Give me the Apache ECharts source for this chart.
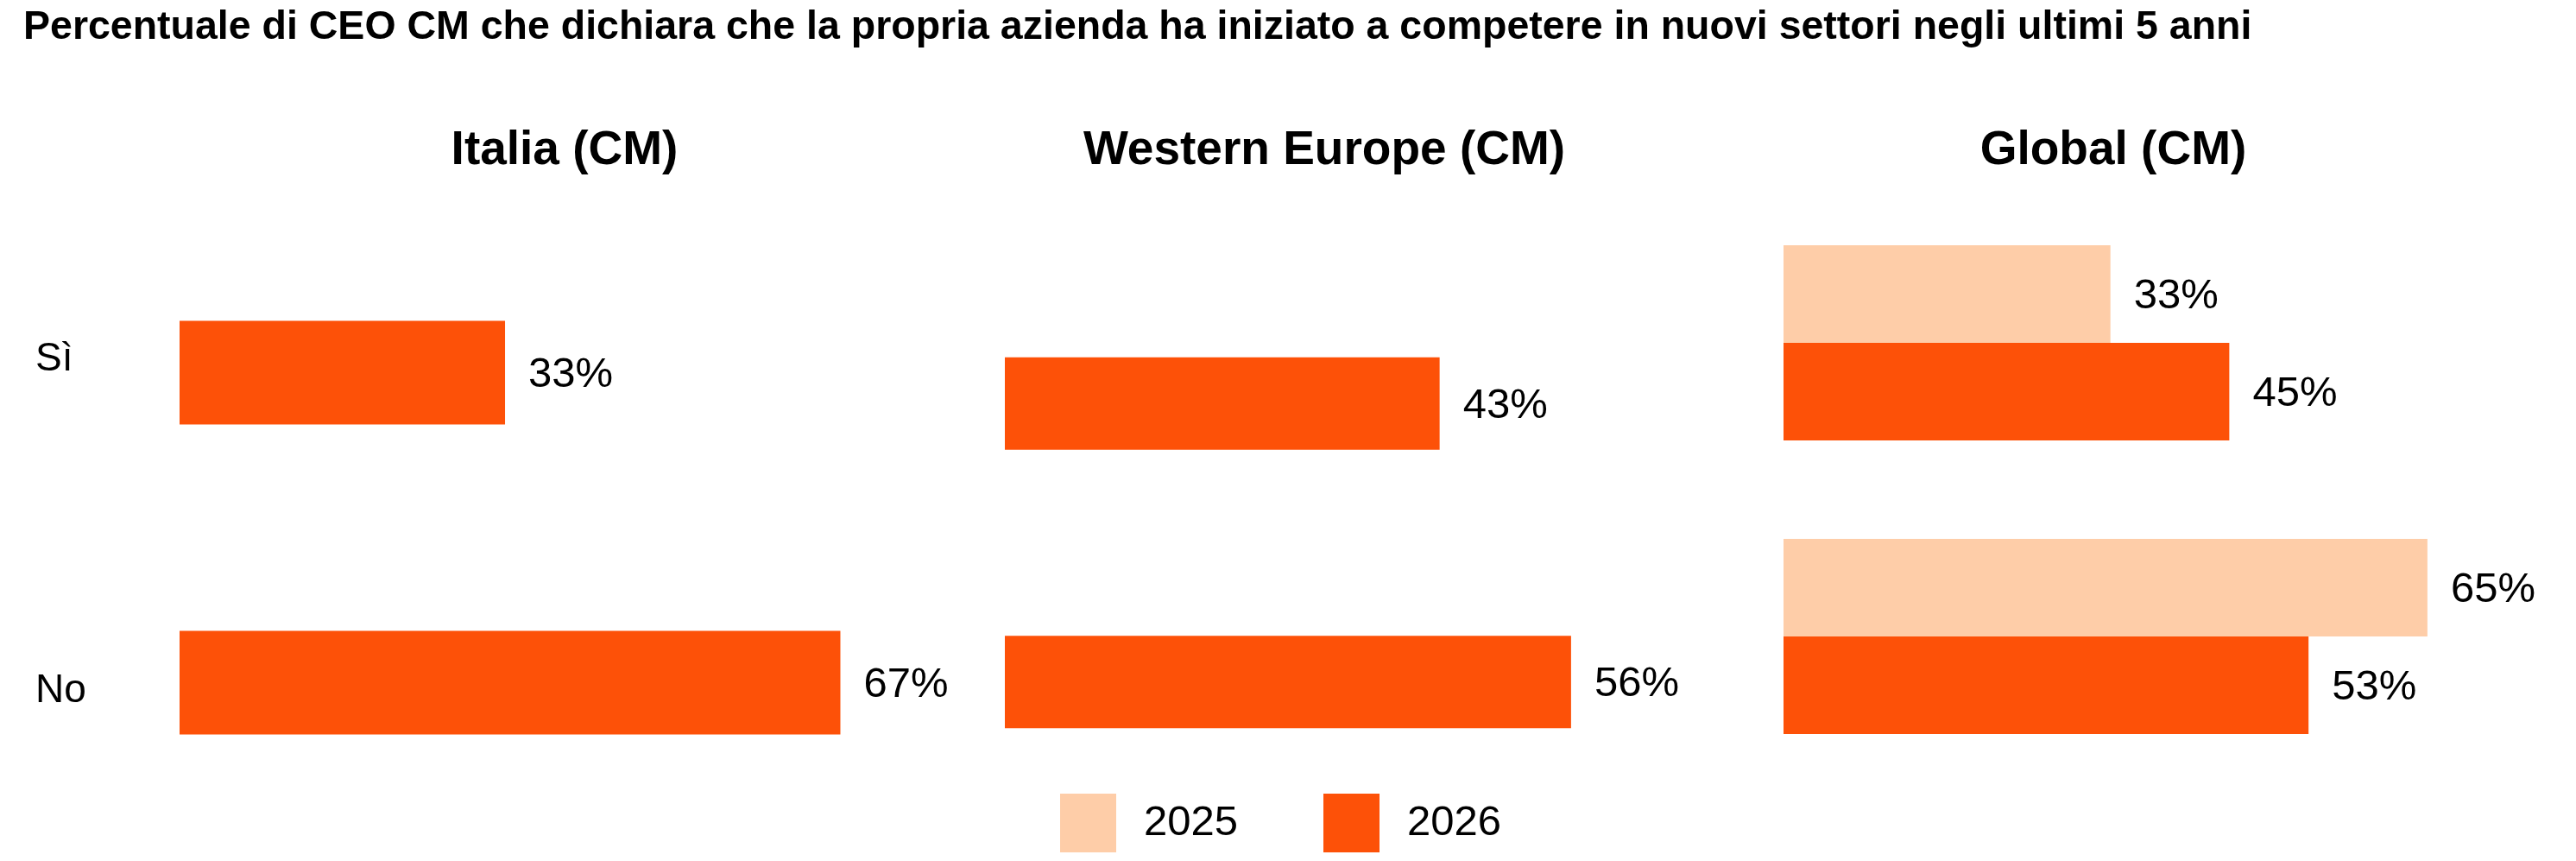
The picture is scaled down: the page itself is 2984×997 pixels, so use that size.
<!DOCTYPE html>
<html>
<head>
<meta charset="utf-8">
<script src="https://cdn.jsdelivr.net/npm/echarts@6/dist/echarts.min.js"></script>
<style>
html,body{margin:0;padding:0;background:#fff;}
#chart{width:2984px;height:997px;}
</style>
</head>
<body>
<div id="chart"></div>
<script>
const mainTitle = 'Percentuale di CEO CM che dichiara che la propria azienda ha iniziato a competere in nuovi settori negli ultimi 5 anni';
const categories = ['Sì', 'No'];
const panelTitles = ['Italia (CM)', 'Western Europe (CM)', 'Global (CM)'];
const years = ['2025', '2026'];
const italia2026 = [33, 67];
const westernEurope2026 = [43, 56];
const global2025 = [33, 65];
const global2026 = [45, 53];

const COLOR_2025 = '#FECDA8';
const COLOR_2026 = '#FD5108';
const FONT = '"Liberation Sans", Arial, Helvetica, sans-serif';

const chart = echarts.init(document.getElementById('chart'));

const grids = [
  {left: 208, top: 252, width: 914, height: 718},
  {left: 1164, top: 306, width: 937, height: 645},
  {left: 2066, top: 227, width: 918, height: 680}
];

const xAxes = grids.map((g, i) => ({
  type: 'value', gridIndex: i, min: 0, max: 80,
  show: false
}));

const yAxes = grids.map((g, i) => ({
  type: 'category', gridIndex: i, data: categories, inverse: true,
  axisLine: {show: false}, axisTick: {show: false}, splitLine: {show: false},
  axisLabel: i === 0 ? {
    show: true, align: 'left', margin: 167, color: '#000', fontSize: 46, fontFamily: FONT,
    formatter: function (v, idx) { return '{c' + idx + '|' + v + '}'; },
    rich: {
      c0: {fontSize: 46, fontFamily: FONT, color: '#000', padding: [0, 0, 30, 0]},
      c1: {fontSize: 46, fontFamily: FONT, color: '#000', padding: [20, 0, 0, 0]}
    }
  } : {show: false}
}));

function valueLabel() {
  return {
    show: true, position: 'right', distance: 27, offset: [0, 3],
    formatter: '{c}%', color: '#000', fontSize: 49, fontFamily: FONT
  };
}

const series = [
  {name: years[1], type: 'bar', xAxisIndex: 0, yAxisIndex: 0, data: italia2026,
   barWidth: 120, itemStyle: {color: COLOR_2026}, label: valueLabel()},
  {name: years[1], type: 'bar', xAxisIndex: 1, yAxisIndex: 1, data: westernEurope2026,
   barWidth: 107, itemStyle: {color: COLOR_2026}, label: valueLabel()},
  {name: years[0], type: 'bar', xAxisIndex: 2, yAxisIndex: 2, data: global2025,
   barWidth: 113, barGap: '0%', itemStyle: {color: COLOR_2025}, label: valueLabel()},
  {name: years[1], type: 'bar', xAxisIndex: 2, yAxisIndex: 2, data: global2026,
   barWidth: 113, barGap: '0%', itemStyle: {color: COLOR_2026}, label: valueLabel()}
];

const panelCenters = [649, 1529, 2443];

chart.setOption({
  animation: false,
  backgroundColor: '#fff',
  textStyle: {fontFamily: FONT},
  color: [COLOR_2025, COLOR_2026],
  title: [
    {text: mainTitle, left: 22, top: 4,
     textStyle: {fontSize: 46.5, fontWeight: 'bold', color: '#000', fontFamily: FONT}}
  ].concat(panelTitles.map((t, i) => ({
    text: t, left: panelCenters[i], top: 142, textAlign: 'center',
    textStyle: {fontSize: 55, fontWeight: 'bold', color: '#000', fontFamily: FONT}
  }))),
  legend: {
    data: years, left: 1223, top: 914,
    itemWidth: 65, itemHeight: 68, itemGap: 99,
    icon: 'rect',
    textStyle: {fontSize: 49, color: '#000', fontFamily: FONT, padding: [0, 0, 0, 27]}
  },
  grid: grids,
  xAxis: xAxes,
  yAxis: yAxes,
  series: series
});
</script>
</body>
</html>
